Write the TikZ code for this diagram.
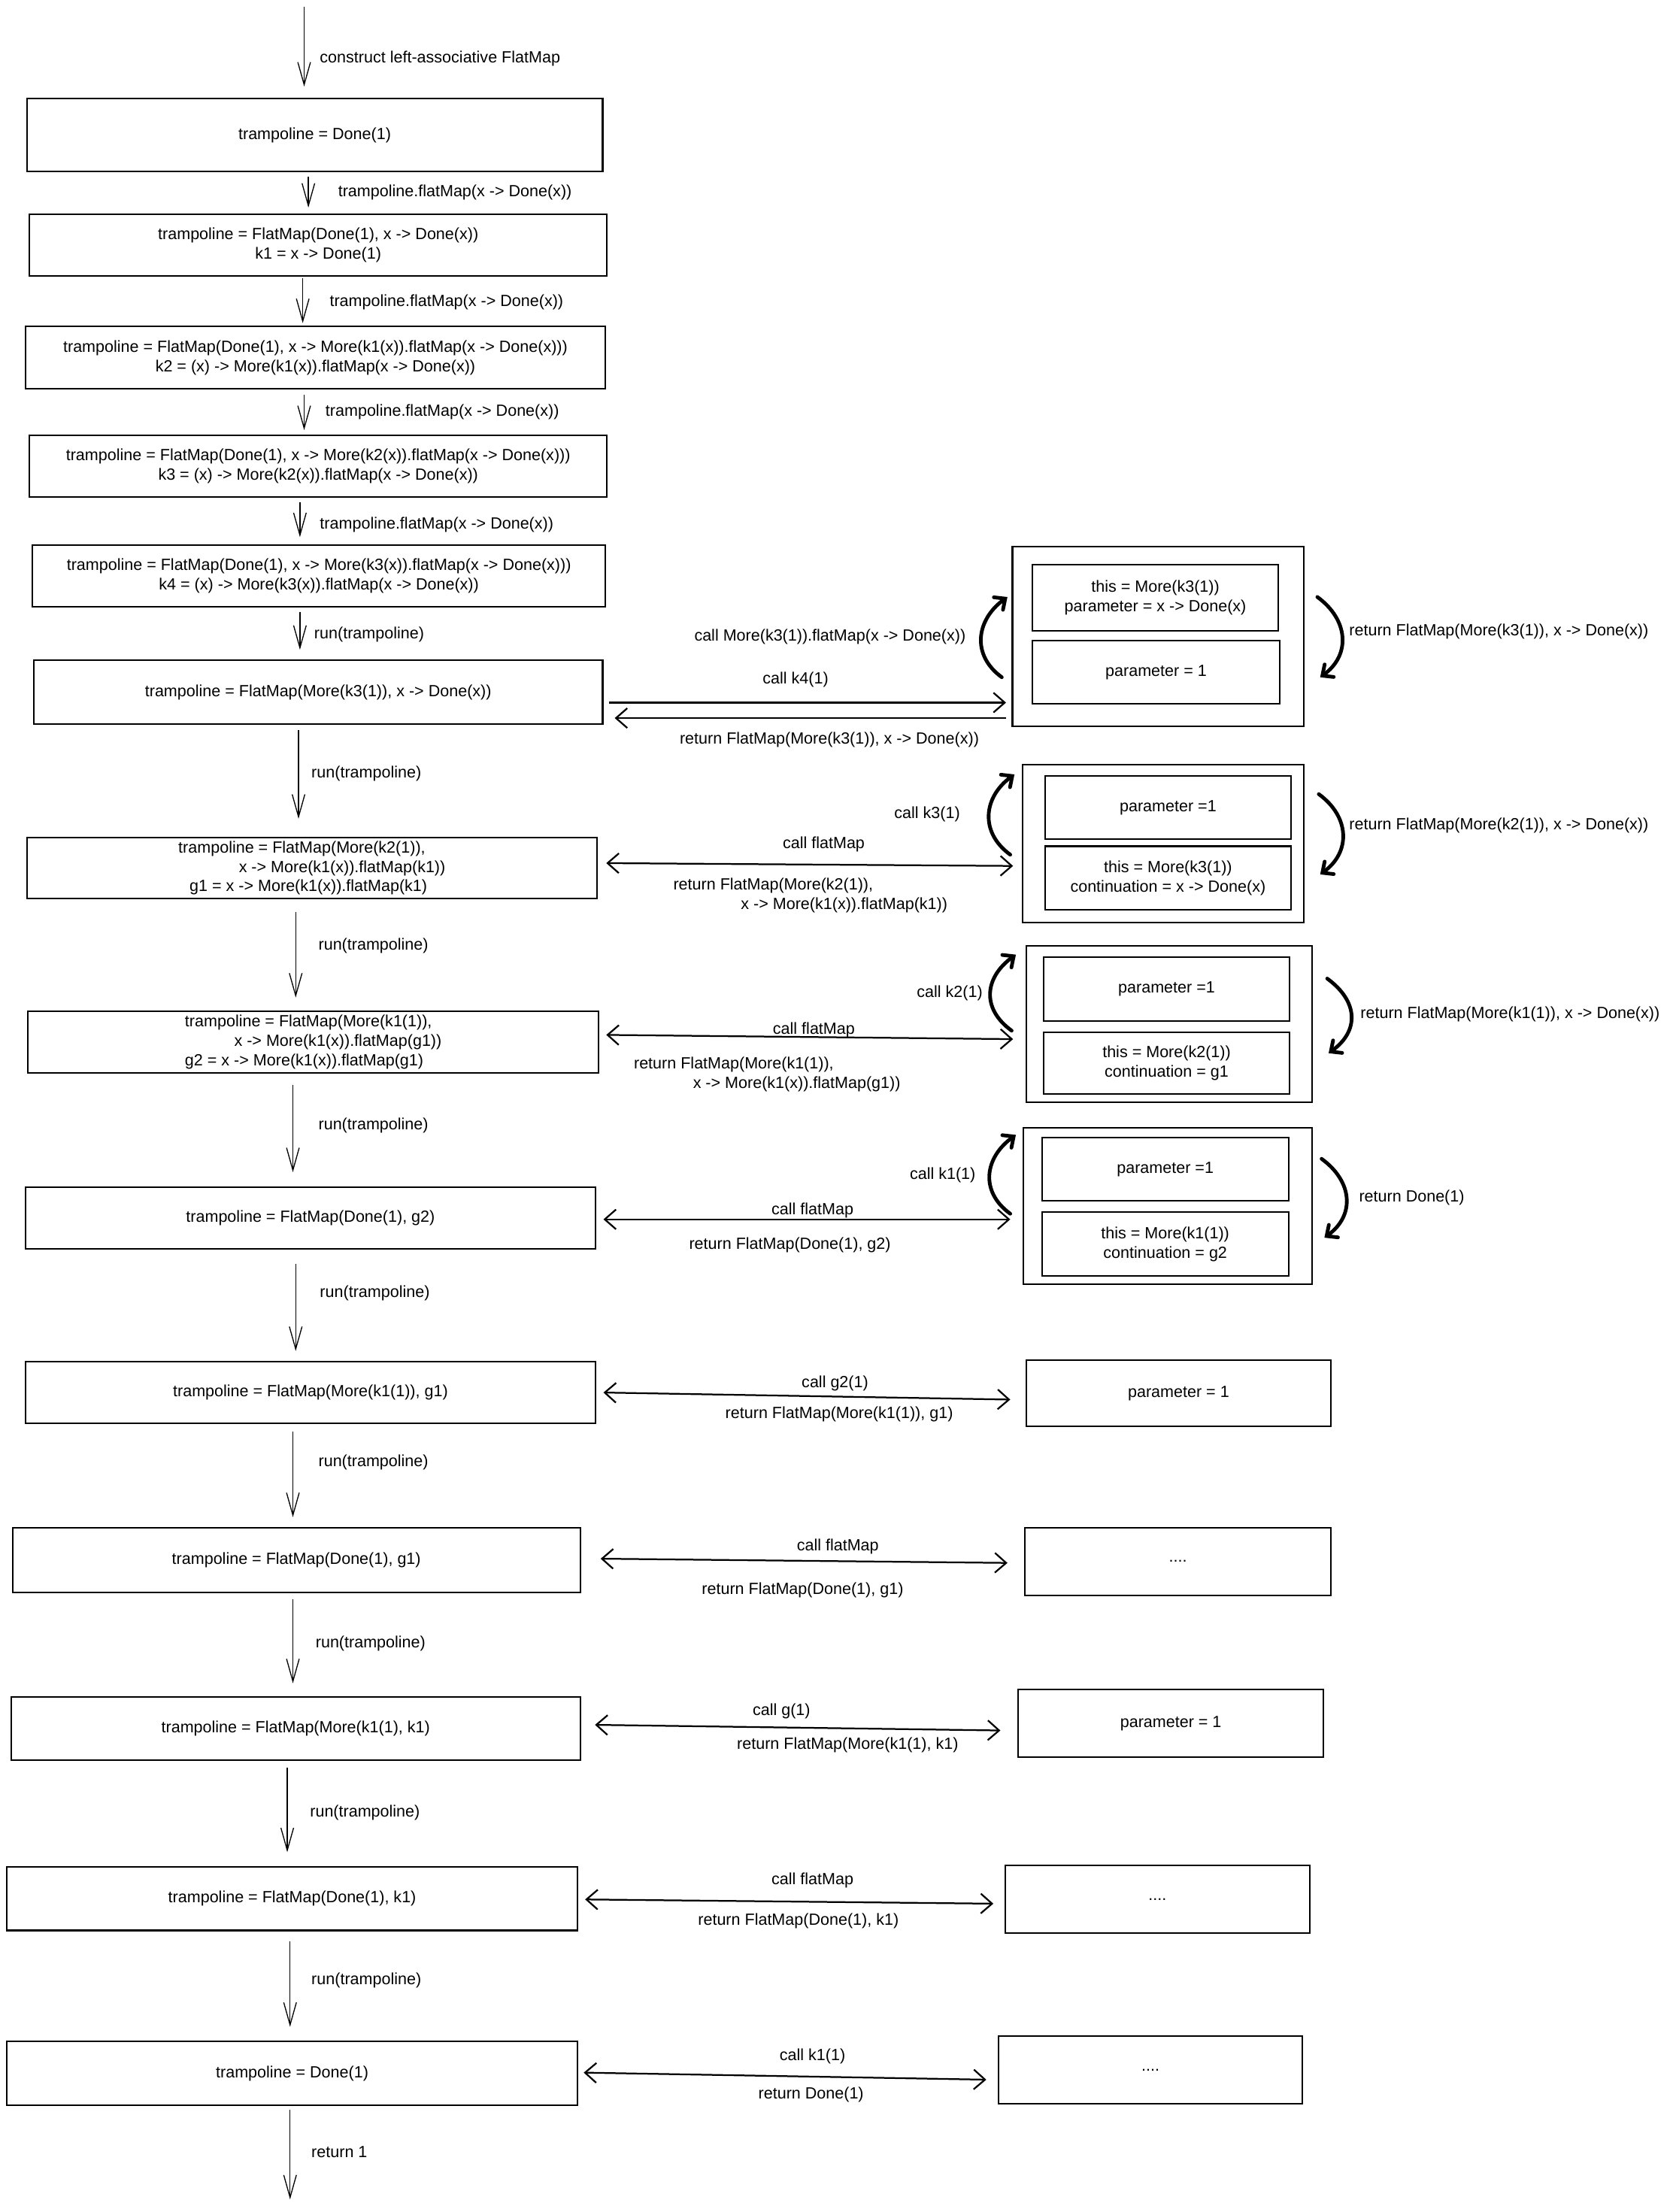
\documentclass[tikz,border=0pt]{standalone}
\usepackage{fontspec}
\setmainfont{Liberation Sans}
\usetikzlibrary{arrows.meta,calc}
\begin{document}
\begin{tikzpicture}[x=1pt,y=-1pt,
  every node/.style={font=\fontsize{11.5}{13.8}\selectfont, inner sep=0pt},
  box/.style={draw, line width=1.1pt, rectangle, align=center},
  bsz/.style 2 args={minimum width=#1pt, minimum height=#2pt},
  lbl/.style={anchor=west, yshift=-1.5pt},
  lblr/.style={anchor=east, yshift=-1.5pt},
  lblc/.style={anchor=center, yshift=-1.5pt},
  varr/.style={draw, line width=0.7pt, -{Straight Barb[length=16pt,width=9pt]}},
  harr/.style={draw, line width=1.2pt, {Straight Barb[length=8pt,width=14pt]}-{Straight Barb[length=8pt,width=14pt]}},
  harrr/.style={draw, line width=1.2pt, -{Straight Barb[length=8pt,width=14pt]}},
  carr/.style={draw, line width=2.6pt, line cap=round, -{Straight Barb[length=6pt,width=11pt,line cap=round]}}
]
\fill[white] (0,0) rectangle (1188,1571);
\useasboundingbox (0,0) rectangle (1188,1571);

% ---------- left column boxes ----------
\node[box,bsz={409}{52}] (b0) at (223.5,96) {trampoline = Done(1)};
\node[box,bsz={410}{44}] (b1) at (226,174) {trampoline = FlatMap(Done(1), x -> Done(x))\\k1 = x -> Done(1)};
\node[box,bsz={412}{44}] (b2) at (224,254) {trampoline = FlatMap(Done(1), x -> More(k1(x)).flatMap(x -> Done(x)))\\k2 = (x) -> More(k1(x)).flatMap(x -> Done(x))};
\node[box,bsz={410}{44}] (b3) at (226,331) {trampoline = FlatMap(Done(1), x -> More(k2(x)).flatMap(x -> Done(x)))\\k3 = (x) -> More(k2(x)).flatMap(x -> Done(x))};
\node[box,bsz={407}{44}] (b4) at (226.5,409) {trampoline = FlatMap(Done(1), x -> More(k3(x)).flatMap(x -> Done(x)))\\k4 = (x) -> More(k3(x)).flatMap(x -> Done(x))};
\node[box,bsz={404}{45}] (b5) at (226,491.5) {trampoline = FlatMap(More(k3(1)), x -> Done(x))};
\node[box,bsz={405}{43},align=left] (b6) at (221.5,616.5) {trampoline = FlatMap(More(k2(1)),\\\hspace*{43pt}x -> More(k1(x)).flatMap(k1))\\\hspace*{8pt}g1 = x -> More(k1(x)).flatMap(k1)};
\node[box,bsz={405}{44},align=left] (b7) at (222.5,740) {trampoline = FlatMap(More(k1(1)),\\\hspace*{35pt}x -> More(k1(x)).flatMap(g1))\\g2 = x -> More(k1(x)).flatMap(g1)};
\node[box,bsz={405}{44}] (b8) at (220.5,865) {trampoline = FlatMap(Done(1), g2)};
\node[box,bsz={405}{44}] (b9) at (220.5,989) {trampoline = FlatMap(More(k1(1)), g1)};
\node[box,bsz={403}{46}] (b10) at (210.5,1108) {trampoline = FlatMap(Done(1), g1)};
\node[box,bsz={404}{45}] (b11) at (210,1227.5) {trampoline = FlatMap(More(k1(1), k1)};
\node[box,bsz={405}{45}] (b12) at (207.5,1348.5) {trampoline = FlatMap(Done(1), k1)};
\node[box,bsz={405}{45}] (b13) at (207.5,1472.5) {trampoline = Done(1)};

% ---------- right column ----------
\node[box,bsz={207}{128}] (r1) at (822.5,452) {};
\node[box,bsz={175}{47}] (r1a) at (820.5,424.5) {this = More(k3(1))\\parameter = x -> Done(x)};
\node[box,bsz={176}{45}] (r1b) at (821,477.5) {parameter = 1};

\node[box,bsz={200}{112}] (r2) at (826,599) {};
\node[box,bsz={175}{45}] (r2a) at (829.5,573.5) {parameter =1};
\node[box,bsz={175}{45}] (r2b) at (829.5,623.5) {this = More(k3(1))\\continuation = x -> Done(x)};

\node[box,bsz={203}{111}] (r3) at (830.5,727.5) {};
\node[box,bsz={175}{45}] (r3a) at (828.5,702.5) {parameter =1};
\node[box,bsz={175}{44}] (r3b) at (828.5,755) {this = More(k2(1))\\continuation = g1};

\node[box,bsz={205}{111}] (r4) at (829.5,856.5) {};
\node[box,bsz={175}{45}] (r4a) at (827.5,830.5) {parameter =1};
\node[box,bsz={175}{45}] (r4b) at (827.5,883.5) {this = More(k1(1))\\continuation = g2};

\node[box,bsz={216}{47}] (r5) at (837,989.5) {parameter = 1};
\node[box,bsz={217}{48}] (r6) at (836.5,1109) {....};
\node[box,bsz={217}{48}] (r7) at (831.5,1224) {parameter = 1};
\node[box,bsz={216}{48}] (r8) at (822,1349) {....};
\node[box,bsz={216}{48}] (r9) at (817,1470) {....};

% ---------- vertical arrows ----------
\coordinate (start) at (216,5);
\coordinate (finish) at (206,1562);
\draw[varr] (start) -- ([shift={(-7.5,-8)}]b0.north);
\draw[varr] ([shift={(-4.5,3)}]b0.south) -- ([shift={(-7,-4)}]b1.north);
\draw[varr] ([shift={(-11,1)}]b1.south) -- ([shift={(-9,-2)}]b2.north);
\draw[varr] ([shift={(-8,4)}]b2.south) -- ([shift={(-10,-3)}]b3.north);
\draw[varr] ([shift={(-13,3)}]b3.south) -- ([shift={(-13.5,-5)}]b4.north);
\draw[varr] ([shift={(-13.5,3)}]b4.south) -- ([shift={(-13,-7)}]b5.north);
\draw[varr] ([shift={(-14,4)}]b5.south) -- ([shift={(-9.5,-13)}]b6.north);
\draw[varr] ([shift={(-11.5,9)}]b6.south) -- ([shift={(-12.5,-9)}]b7.north);
\draw[varr] ([shift={(-14.5,8)}]b7.south) -- ([shift={(-12.5,-10)}]b8.north);
\draw[varr] ([shift={(-10.5,10)}]b8.south) -- ([shift={(-10.5,-7)}]b9.north);
\draw[varr] ([shift={(-12.5,5)}]b9.south) -- ([shift={(-2.5,-7)}]b10.north);
\draw[varr] ([shift={(-2.5,4)}]b10.south) -- ([shift={(-2,-9)}]b11.north);
\draw[varr] ([shift={(-6,5)}]b11.south) -- ([shift={(-3.5,-10)}]b12.north);
\draw[varr] ([shift={(-1.5,7)}]b12.south) -- ([shift={(-1.5,-10)}]b13.north);
\draw[varr] ([shift={(-1.5,3)}]b13.south) -- (finish);

% vertical arrow labels
\node[lbl] (l0) at (227,40) {construct left-associative FlatMap};
\node[lbl] (l1) at (240,135) {trampoline.flatMap(x -> Done(x))};
\node[lbl] (l2) at (234,213) {trampoline.flatMap(x -> Done(x))};
\node[lbl] (l3) at (231,291) {trampoline.flatMap(x -> Done(x))};
\node[lbl] (l4) at (227,371) {trampoline.flatMap(x -> Done(x))};
\node[lbl] (l5) at (223,449) {run(trampoline)};
\node[lbl] (l6) at (221,548) {run(trampoline)};
\node[lbl] (l7) at (226,670) {run(trampoline)};
\node[lbl] (l8) at (226,798) {run(trampoline)};
\node[lbl] (l9) at (227,917) {run(trampoline)};
\node[lbl] (l10) at (226,1037) {run(trampoline)};
\node[lbl] (l11) at (224,1166) {run(trampoline)};
\node[lbl] (l12) at (220,1286) {run(trampoline)};
\node[lbl] (l13) at (221,1405) {run(trampoline)};
\node[lbl] (l14) at (221,1527) {return 1};

% ---------- horizontal arrows ----------
\draw[harrr] ([shift={(4,7.5)}]b5.east) -- ([shift={(-4,47)}]r1.west);
\draw[harrr] ([shift={(-4,58)}]r1.west) -- ([shift={(8,18.5)}]b5.east);
\draw[harr] ([shift={(6,-3.5)}]b6.east) -- ([shift={(-6,16)}]r2.west);
\draw[harr] ([shift={(5,-5)}]b7.east) -- ([shift={(-9,10.5)}]r3.west);
\draw[harr] ([shift={(5,1)}]b8.east) -- ([shift={(-9,9.5)}]r4.west);
\draw[harr] ([shift={(5,0)}]b9.east) -- ([shift={(-11,4.5)}]r5.west);
\draw[harr] ([shift={(14,-1)}]b10.east) -- ([shift={(-12,1)}]r6.west);
\draw[harr] ([shift={(10,-2.5)}]b11.east) -- ([shift={(-12,5)}]r7.west);
\draw[harr] ([shift={(5,0.5)}]b12.east) -- ([shift={(-8,3)}]r8.west);
\draw[harr] ([shift={(4,-0.5)}]b13.east) -- ([shift={(-8,7)}]r9.west);

% horizontal labels
\node[lblc] (h1c) at (565,481) {call k4(1)};
\node[lblc] (h1r) at (589,524) {return FlatMap(More(k3(1)), x -> Done(x))};
\node[lblc] (h2c) at (585,598) {call flatMap};
\node[lbl,align=left] (h2r) at (478,634.5) {return FlatMap(More(k2(1)),\\\hspace*{48pt}x -> More(k1(x)).flatMap(k1))};
\node[lblc] (h3c) at (578,730) {call flatMap};
\node[lbl,align=left] (h3r) at (450,761.5) {return FlatMap(More(k1(1)),\\\hspace*{42pt}x -> More(k1(x)).flatMap(g1))};
\node[lblc] (h4c) at (577,858) {call flatMap};
\node[lblc] (h4r) at (561,883) {return FlatMap(Done(1), g2)};
\node[lblc] (h5c) at (593,981) {call g2(1)};
\node[lblc] (h5r) at (596,1003) {return FlatMap(More(k1(1)), g1)};
\node[lblc] (h6c) at (595,1097) {call flatMap};
\node[lblc] (h6r) at (570,1128) {return FlatMap(Done(1), g1)};
\node[lblc] (h7c) at (555,1214) {call g(1)};
\node[lblc] (h7r) at (602,1238) {return FlatMap(More(k1(1), k1)};
\node[lblc] (h8c) at (577,1334) {call flatMap};
\node[lblc] (h8r) at (567,1363) {return FlatMap(Done(1), k1)};
\node[lblc] (h9c) at (577,1459) {call k1(1)};
\node[lblc] (h9r) at (576,1486) {return Done(1)};

% ---------- curved thick arrows ----------
\draw[carr] ([shift={(-7,29)}]r1.west) .. controls +(-22,-16) and +(-22,16) .. ([shift={(-3,-28)}]r1.west);
\draw[carr] ([shift={(9,-28)}]r1.east) .. controls +(22,16) and +(22,-16) .. ([shift={(11,29)}]r1.east);
\draw[carr] ([shift={(-8,8)}]r2.west) .. controls +(-22,-16) and +(-22,16) .. ([shift={(-5,-49)}]r2.west);
\draw[carr] ([shift={(10,-35)}]r2.east) .. controls +(22,16) and +(22,-16) .. ([shift={(11,22)}]r2.east);
\draw[carr] ([shift={(-10,4.5)}]r3.west) .. controls +(-22,-16) and +(-22,16) .. ([shift={(-7,-49.5)}]r3.west);
\draw[carr] ([shift={(10,-32.5)}]r3.east) .. controls +(22,16) and +(22,-16) .. ([shift={(11,20.5)}]r3.east);
\draw[carr] ([shift={(-9,5.5)}]r4.west) .. controls +(-22,-16) and +(-22,16) .. ([shift={(-5,-50.5)}]r4.west);
\draw[carr] ([shift={(6,-33.5)}]r4.east) .. controls +(22,16) and +(22,-16) .. ([shift={(8,22.5)}]r4.east);

% curved arrow labels
\node[lblr] (c1l) at (686,451) {call More(k3(1)).flatMap(x -> Done(x))};
\node[lbl] (c1r) at (958,447) {return FlatMap(More(k3(1)), x -> Done(x))};
\node[lblr] (c2l) at (682,577) {call k3(1)};
\node[lbl] (c2r) at (958,585) {return FlatMap(More(k2(1)), x -> Done(x))};
\node[lblr] (c3l) at (698,704) {call k2(1)};
\node[lbl] (c3r) at (966,719) {return FlatMap(More(k1(1)), x -> Done(x))};
\node[lblr] (c4l) at (693,833) {call k1(1)};
\node[lbl] (c4r) at (965,849) {return Done(1)};
\end{tikzpicture}
\end{document}
